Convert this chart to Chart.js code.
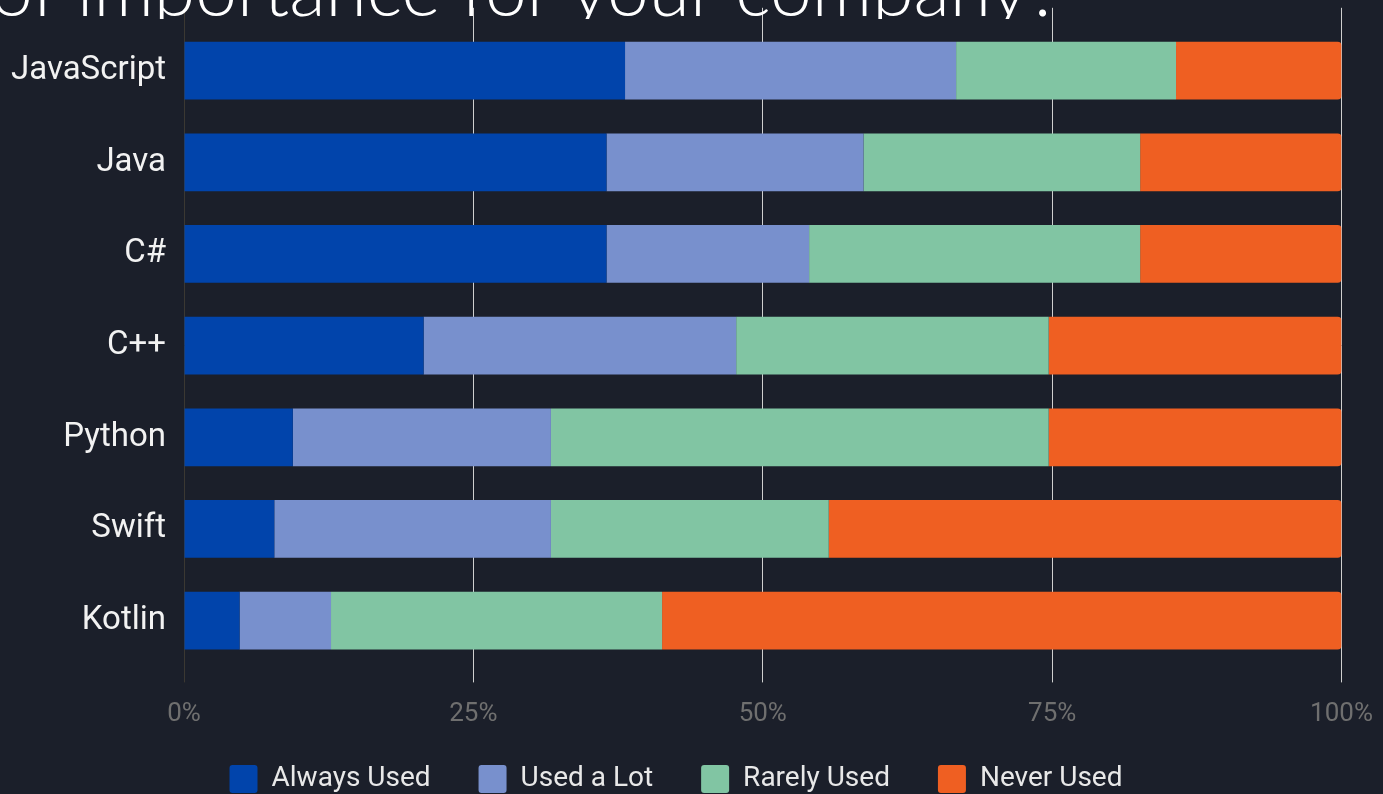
<!DOCTYPE html>
<html>
<head>
<meta charset="utf-8">
<script src="https://cdn.jsdelivr.net/npm/chart.js@4"></script>
<style>
  html, body { margin: 0; padding: 0; background: #1b1f2a; overflow: hidden; }
  #wrap { position: absolute; left: 0; top: -13px; width: 1389px; height: 816px; }
  #titleBox { position: absolute; left: 0; top: 0; width: 1383px; height: 19px; overflow: hidden; }
  #title { position: absolute; left: -9px; top: -50px; font: 300 75px Lato, sans-serif; line-height: 75px;
           color: #ffffff; white-space: nowrap; }
</style>
</head>
<body>
<div id="wrap"><canvas id="chart" width="1389" height="816"></canvas></div>
<div id="titleBox"><div id="title">of importance for your company?</div></div>
<script>
// Données (en %)
const languages = ['JavaScript', 'Java', 'C#', 'C++', 'Python', 'Swift', 'Kotlin'];
const alwaysUsed = [38.1, 36.5, 36.5, 20.7, 9.4, 7.8, 4.8];
const usedALot = [28.6, 22.2, 17.5, 27.0, 22.3, 23.9, 7.9];
const rarelyUsed = [19.0, 23.9, 28.6, 27.0, 43.0, 24.0, 28.6];
const neverUsed = [14.3, 17.4, 17.4, 25.3, 25.3, 44.3, 58.7];
const seriesNames = ['Always Used', 'Used a Lot', 'Rarely Used', 'Never Used'];
const xTicks = [0, 25, 50, 75, 100];

const colors = ['#0144ab', '#7890cd', '#81c5a3', '#ef5f22'];
const gridColor = (ctx) => ctx.index === 0 ? '#3b3832' : '#cfcfcf';

const ctx = document.getElementById('chart').getContext('2d');
new Chart(ctx, {
    type: 'bar',
    data: {
        labels: languages,
        datasets: [alwaysUsed, usedALot, rarelyUsed, neverUsed].map((values, i) => ({
            label: seriesNames[i],
            data: values,
            backgroundColor: colors[i],
            borderWidth: 0,
            borderRadius: i === 3 ? 4 : 0,
            barPercentage: 0.63,
            categoryPercentage: 1
        }))
    },
    options: {
        indexAxis: 'y',
        responsive: false,
        animation: false,
        events: [],
        layout: { padding: { top: 0, left: -37, right: 0, bottom: 0 } },
        scales: {
            x: {
                stacked: true,
                min: 0,
                max: 100,
                afterBuildTicks: (scale) => { scale.ticks = xTicks.map(v => ({ value: v })); },
                border: { display: false },
                grid: { color: gridColor, lineWidth: 1, drawTicks: true, tickLength: 16 },
                ticks: {
                    padding: 16,
                    color: '#6f6f6f',
                    font: { family: 'Roboto', size: 26 },
                    callback: (v) => v + '%'
                }
            },
            // axe du haut : seulement les petits traits au-dessus de la zone
            x2: {
                type: 'linear',
                position: 'top',
                min: 0,
                max: 100,
                afterBuildTicks: (scale) => { scale.ticks = xTicks.map(v => ({ value: v })); },
                border: { display: false },
                grid: { color: gridColor, lineWidth: 1, drawOnChartArea: false, drawTicks: true, tickLength: 17 },
                ticks: { display: false }
            },
            y: {
                stacked: true,
                afterFit: (scale) => { scale.width = 221; },
                border: { display: false },
                grid: { display: false, drawTicks: false },
                ticks: {
                    padding: 18,
                    color: '#f2f2f2',
                    font: { family: 'Roboto', size: 33 }
                }
            }
        },
        plugins: {
            title: { display: false },
            tooltip: { enabled: false },
            legend: {
                position: 'bottom',
                // titre vide, marge négative pour remonter la ligne de légende
                title: { display: true, text: '', font: { size: 1 }, padding: { top: -29.8, bottom: 0 } },
                labels: {
                    boxWidth: 28,
                    boxHeight: 28,
                    padding: 48,
                    color: '#e8e8e8',
                    useBorderRadius: true,
                    borderRadius: 3,
                    font: { family: 'Roboto', size: 28 }
                }
            }
        }
    }
});
</script>
</body>
</html>
